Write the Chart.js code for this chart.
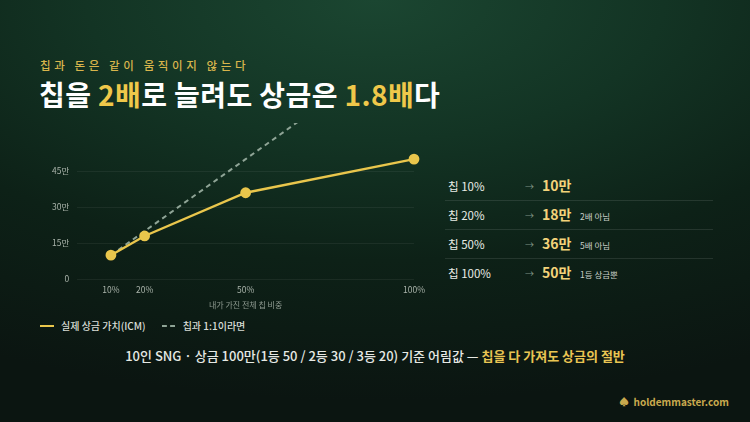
<!DOCTYPE html>
<html><head><meta charset="utf-8">
<script src="https://cdn.jsdelivr.net/npm/chart.js@4.4.1/dist/chart.umd.min.js"></script>
<style>
html,body{margin:0;padding:0;}
body{width:750px;height:422px;overflow:hidden;position:relative;font-family:"Noto Sans CJK KR","Noto Sans",sans-serif;
background:radial-gradient(ellipse 110% 95% at 50% 0%, #1b4631 0%, #133424 35%, #0d2117 65%, #0b1511 100%);}
.sub{position:absolute;left:40px;top:57px;font-size:11.5px;color:#d8b54c;letter-spacing:3.6px;font-weight:500;}
.title{position:absolute;left:39px;top:76px;font-size:28px;color:#ffffff;font-weight:700;letter-spacing:0.4px;line-height:1.3;}
.title b{color:#efc84a;font-weight:700;}
#wrap{position:absolute;left:44px;top:110px;width:386px;height:200px;}
.legend{position:absolute;left:40px;top:318px;font-size:10px;color:#d9ddd6;display:flex;align-items:center;font-weight:500;}
.legend .sw{display:inline-block;width:14px;height:0;border-top:2px solid #e9c64c;margin-right:7px;}
.legend .sw2{display:inline-block;width:13px;height:0;border-top:2px dashed #8fa496;margin-right:8px;margin-left:16px;}
.panel{position:absolute;left:445px;top:172px;width:268px;}
.row{position:relative;height:28px;border-bottom:1px solid rgba(255,255,255,0.10);}
.row:last-child{border-bottom:none;}
.row span{position:absolute;top:6px;}
.c1{left:3px;font-size:11.5px;color:#e8ece6;}
.c2{left:80px;font-size:9px;color:#7f9486;top:8px!important;}
.c3{left:97px;font-size:14px;font-weight:700;color:#f3d37a;top:3px!important;}
.c4{left:135px;font-size:8.5px;color:#c9cfc8;top:9px!important;}
.foot{position:absolute;left:0;width:750px;top:346px;text-align:center;font-size:13px;color:#e6e9e4;font-weight:500;}
.foot b{color:#e9c553;font-weight:700;}
.wm{position:absolute;left:619px;top:394px;font-size:10px;color:#c9a94e;font-weight:700;}
</style></head>
<body>
<div class="sub">칩과 돈은 같이 움직이지 않는다</div>
<div class="title">칩을 <b>2배</b>로 늘려도 상금은 <b>1.8배</b>다</div>
<div id="wrap"><canvas id="c"></canvas></div>
<div class="legend"><span class="sw"></span>실제 상금 가치(ICM)<span class="sw2"></span>칩과 1:1이라면</div>
<div class="panel" id="panel"></div>
<div class="foot">10인 SNG · 상금 100만(1등 50 / 2등 30 / 3등 20) 기준 어림값 — <b>칩을 다 가져도 상금의 절반</b></div>
<div class="wm">♠&nbsp; holdemmaster.com</div>
<script>
const chipPct = [10, 20, 50, 100];
const icmValue = [10, 18, 36, 50];
const linearValue = [10, 20, 50, 100];
const xTicks = [10, 20, 50, 100];
const yTicks = [0, 15, 30, 45];
const rowLabels = ['칩 10%', '칩 20%', '칩 50%', '칩 100%'];
const rowNotes = ['', '2배 아님', '5배 아님', '1등 상금뿐'];

const panel = document.getElementById('panel');
rowLabels.forEach((l, i) => {
  const r = document.createElement('div'); r.className = 'row';
  r.innerHTML = `<span class="c1">${l}</span><span class="c2">→</span><span class="c3">${icmValue[i]}만</span><span class="c4">${rowNotes[i]}</span>`;
  panel.appendChild(r);
});

const ctx = document.getElementById('c');
new Chart(ctx, {
  type: 'line',
  data: {
    datasets: [
      {
        label: '실제 상금 가치(ICM)',
        data: chipPct.map((x, i) => ({x, y: icmValue[i]})),
        borderColor: '#e9c64c', backgroundColor: '#e9c64c',
        borderWidth: 2.4, pointRadius: 4.2, pointHoverRadius: 4.2,
        pointBackgroundColor: '#e9c64c', pointBorderColor: '#e9c64c',
        tension: 0, clip: false, order: 1
      },
      {
        label: '칩과 1:1이라면',
        data: chipPct.map((x, i) => ({x, y: linearValue[i]})),
        borderColor: '#8fa496', borderWidth: 2, borderDash: [5, 4],
        pointRadius: 0, tension: 0, order: 2
      }
    ]
  },
  options: {
    responsive: true, maintainAspectRatio: false, animation: false,
    layout: {padding: {left: 0, right: 14, top: 10, bottom: 0}},
    plugins: {legend: {display: false}, tooltip: {enabled: false}},
    scales: {
      x: {
        type: 'linear', min: 0, max: 100,
        afterBuildTicks: a => { a.ticks = xTicks.map(v => ({value: v})); },
        ticks: {callback: v => v + '%', color: '#a9b3aa', font: {size: 8.5, family: 'Noto Sans CJK KR'}, maxRotation: 0, padding: 5},
        grid: {display: false, drawTicks: false},
        border: {display: false},
        title: {display: true, text: '내가 가진 전체 칩 비중', color: '#8f9b91', font: {size: 8, family: 'Noto Sans CJK KR'}, padding: {top: 1, bottom: 0}}
      },
      y: {
        min: 0, max: 65,
        afterBuildTicks: a => { a.ticks = yTicks.map(v => ({value: v})); },
        ticks: {callback: v => v === 0 ? '0' : v + '만', color: '#a9b3aa', font: {size: 8.5, family: 'Noto Sans CJK KR'}, padding: 8},
        grid: {color: 'rgba(255,255,255,0.06)', drawTicks: false},
        border: {display: false}
      }
    }
  }
});
</script>
</body></html>
